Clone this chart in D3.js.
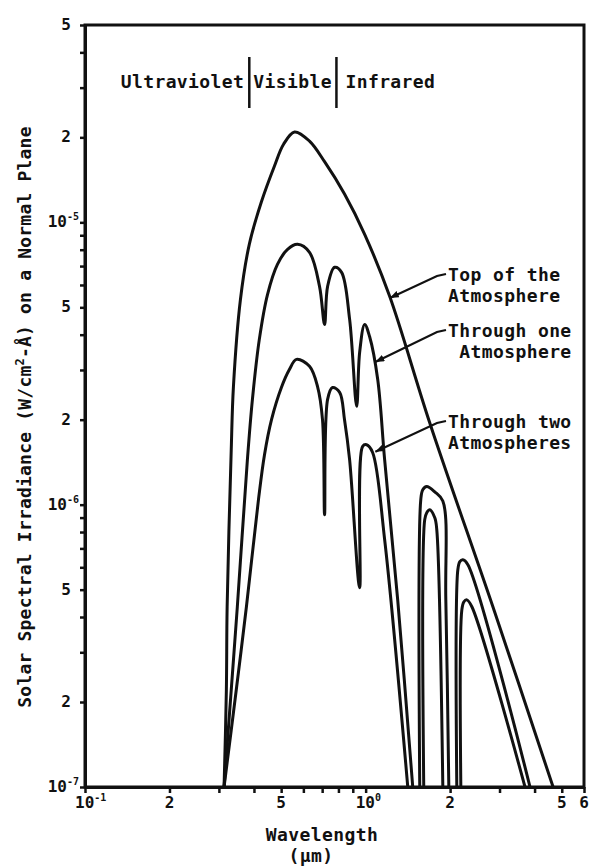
<!DOCTYPE html>
<html>
<head>
<meta charset="utf-8">
<script src="https://cdn.jsdelivr.net/npm/d3@7"></script>
<style>
  body { margin: 0; background: #fff; }
  text { font-family: "DejaVu Sans Mono", monospace; font-weight: bold; fill: #111; }
</style>
</head>
<body>
<svg id="chart" width="590" height="867"></svg>
<script>
// wavelength in um, irradiance in W/cm2-A ; null = curve leaves the plot at the bottom
const topWl = [0.313, 0.319, 0.321, 0.332, 0.338, 0.358, 0.385, 0.425, 0.473, 0.510, 0.558, 0.631,
               0.714, 0.841, 0.992, 1.218, 1.692, 2.889, 4.656];
const topE  = [1e-7, 2.21e-7, 4.35e-7, 1.57e-6, 2.62e-6, 5.33e-6, 8.36e-6, 1.18e-5, 1.58e-5, 1.89e-5, 2.09e-5, 1.94e-5,
               1.64e-5, 1.26e-5, 9.07e-6, 5.47e-6, 1.95e-6, 4.14e-7, 1e-7];

const oneWl = [0.313, 0.332, 0.349, 0.379, 0.395, 0.418, 0.447, 0.485, 0.527, 0.572, 0.631, 0.685, 0.714,
               0.732, 0.775, 0.821, 0.877, 0.929, 0.952, 0.992, 1.033, 1.104, 1.169, 1.301, 1.472, null,
               1.559, 1.572, 1.598, 1.651, 1.764, 1.884, 1.931, 1.979, null,
               2.113, 2.131, 2.166, 2.220, 2.314, 3.853];
const oneE  = [1e-7, 2.21e-7, 4.35e-7, 1.44e-6, 2.36e-6, 3.85e-6, 5.55e-6, 7.10e-6, 8.02e-6, 8.36e-6, 7.83e-6, 5.93e-6, 4.35e-6,
               5.93e-6, 6.93e-6, 6.65e-6, 4.53e-6, 2.23e-6, 3.46e-6, 4.35e-6, 3.94e-6, 2.78e-6, 1.44e-6, 4.60e-7, 1e-7, null,
               1e-7, 1.04e-6, 1.13e-6, 1.16e-6, 1.11e-6, 1.03e-6, 4.60e-7, 1e-7, null,
               1e-7, 5.88e-7, 6.28e-7, 6.38e-7, 6.13e-7, 1e-7];

const twoWl = [0.313, 0.346, 0.376, 0.415, 0.436, 0.462, 0.501, 0.535, 0.567, 0.631, 0.674, 0.702,
               0.714, 0.732, 0.762, 0.808, 0.841, 0.877, 0.952, 0.976, 1.008, 1.059, 1.169, 1.413, null,
               1.611, 1.624, 1.651, 1.692, 1.764, 1.793, 1.884, null,
               2.184, 2.202, 2.239, 2.295, 2.391, 3.698];
const twoE  = [1e-7, 2.21e-7, 4.35e-7, 1.04e-6, 1.50e-6, 2.00e-6, 2.60e-6, 3.01e-6, 3.27e-6, 3.09e-6, 2.62e-6, 2.00e-6,
               9.21e-7, 2.36e-6, 2.60e-6, 2.50e-6, 2.00e-6, 1.44e-6, 5.08e-7, 1.61e-6, 1.63e-6, 1.53e-6, 7.51e-7, 1e-7, null,
               1e-7, 8.85e-7, 9.37e-7, 9.60e-7, 8.99e-7, 8.15e-7, 1e-7, null,
               1e-7, 4.24e-7, 4.53e-7, 4.60e-7, 4.35e-7, 1e-7];

const xTicks = [0.1, 0.2, 0.3, 0.4, 0.5, 0.6, 0.7, 0.8, 0.9, 1, 2, 3, 4, 5, 6];
const xLabelVals = [0.1, 0.2, 0.5, 1, 2, 5, 6];
const xLabelBase = ['10', '2', '5', '10', '2', '5', '6'];
const xLabelExp  = ['-1', '', '', '0', '', '', ''];

const yTicks = [1e-7, 2e-7, 3e-7, 4e-7, 5e-7, 6e-7, 7e-7, 8e-7, 9e-7,
                1e-6, 2e-6, 3e-6, 4e-6, 5e-6, 6e-6, 7e-6, 8e-6, 9e-6,
                1e-5, 2e-5, 3e-5, 4e-5, 5e-5];
const yLabelVals = [1e-7, 2e-7, 5e-7, 1e-6, 2e-6, 5e-6, 1e-5, 2e-5, 5e-5];
const yLabelBase = ['10', '2', '5', '10', '2', '5', '10', '2', '5'];
const yLabelExp  = ['-7', '', '', '-6', '', '', '-5', '', ''];

const bandNames = ['Ultraviolet', 'Visible', 'Infrared'];
const bandEdges = [0.385, 0.787];

const noteLines = [['Top of the', 'Atmosphere'], ['Through one', ' Atmosphere'], ['Through two', 'Atmospheres']];
const noteTipWl = [1.22, 1.083, 1.083];
const noteTipE  = [5.4e-6, 3.2e-6, 1.54e-6];

const plotLeft = 85, plotRight = 584, plotTop = 25, plotBottom = 787;

const svg = d3.select('#chart');

const x = d3.scaleLog().domain([0.1, 6]).range([plotLeft, plotRight]);
const y = d3.scaleLog().domain([1e-7, 5e-5]).range([plotBottom, plotTop]);

const defs = svg.append('defs');
defs.append('clipPath').attr('id', 'plot')
    .append('rect').attr('x', plotLeft).attr('y', plotTop)
    .attr('width', plotRight - plotLeft).attr('height', plotBottom - plotTop);

defs.append('marker')
    .attr('id', 'arrow').attr('viewBox', '0 0 9 7')
    .attr('refX', 9).attr('refY', 3.5)
    .attr('markerWidth', 9).attr('markerHeight', 7)
    .attr('markerUnits', 'userSpaceOnUse').attr('orient', 'auto')
    .append('path').attr('d', 'M0,0L9,3.5L0,7Z').attr('fill', '#111');

const line = d3.line()
  .defined(d => d[1] != null)
  .x(d => x(d[0]))
  .y(d => y(d[1]))
  .curve(d3.curveCatmullRom.alpha(0.5));

const series = [[topWl, topE], [oneWl, oneE], [twoWl, twoE]];

svg.append('g').attr('clip-path', 'url(#plot)')
  .selectAll('path')
  .data(series.map(s => s[0].map((w, i) => [w, s[1][i]])))
  .enter()
  .append('path')
  .attr('d', line)
  .attr('fill', 'none')
  .attr('stroke', '#111')
  .attr('stroke-width', 3)
  .attr('stroke-linejoin', 'round');

// frame
svg.append('rect')
   .attr('x', plotLeft).attr('y', plotTop)
   .attr('width', plotRight - plotLeft).attr('height', plotBottom - plotTop)
   .attr('fill', 'none').attr('stroke', '#111').attr('stroke-width', 3);

const xAxis = d3.axisBottom(x).tickValues(xTicks).tickFormat('').tickSize(6).tickSizeOuter(0);
const yAxis = d3.axisLeft(y).tickValues(yTicks).tickFormat('').tickSize(5).tickSizeOuter(0);

const gx = svg.append('g').attr('transform', `translate(0, ${plotBottom})`).call(xAxis);
const gy = svg.append('g').attr('transform', `translate(${plotLeft}, 0)`).call(yAxis);
[gx, gy].forEach(g => {
  g.select('.domain').attr('stroke', '#111').attr('stroke-width', 3);
  g.selectAll('.tick line').attr('stroke', '#111').attr('stroke-width', 2.5);
});

// tick labels
const xl = svg.append('g').selectAll('text')
  .data(xLabelVals)
  .enter()
  .append('text')
  .attr('x', (d, i) => xLabelExp[i] ? x(d) - 10 : x(d))
  .attr('y', 808)
  .attr('text-anchor', (d, i) => xLabelExp[i] ? 'start' : 'middle')
  .attr('font-size', 16)
  .text((d, i) => xLabelBase[i]);
xl.filter((d, i) => xLabelExp[i])
  .append('tspan').attr('dy', -7).attr('font-size', 10)
  .text(d => xLabelExp[xLabelVals.indexOf(d)]);

const yl = svg.append('g').selectAll('text')
  .data(yLabelVals)
  .enter()
  .append('text')
  .attr('x', (d, i) => yLabelExp[i] ? 79 : 71)
  .attr('y', d => y(d) + 5)
  .attr('text-anchor', 'end')
  .attr('font-size', 16)
  .text((d, i) => yLabelBase[i]);
yl.filter((d, i) => yLabelExp[i])
  .append('tspan').attr('dy', -7).attr('font-size', 10)
  .text(d => yLabelExp[yLabelVals.indexOf(d)]);

// band header
svg.selectAll('.edge')
  .data(bandEdges)
  .enter()
  .append('line')
  .attr('class', 'edge')
  .attr('x1', d => x(d)).attr('x2', d => x(d))
  .attr('y1', 57).attr('y2', 108)
  .attr('stroke', '#111').attr('stroke-width', 2.5);

const bandX = [x(bandEdges[0]) - 5, x(bandEdges[0]) + 4, x(bandEdges[1]) + 9];
const bandAnchor = ['end', 'start', 'start'];
svg.selectAll('.band')
  .data(bandNames)
  .enter()
  .append('text')
  .attr('class', 'band')
  .attr('x', (d, i) => bandX[i])
  .attr('y', 88)
  .attr('text-anchor', (d, i) => bandAnchor[i])
  .attr('font-size', 18)
  .attr('letter-spacing', 0.4)
  .text(d => d);

// curve labels with leaders
const noteBase = [281, 337, 428];
noteLines.forEach((lines, i) => {
  const t = svg.append('text').attr('font-size', 18).attr('letter-spacing', 0.4)
               .attr('xml:space', 'preserve');
  lines.forEach((s, j) => {
    t.append('tspan').attr('x', 448).attr('y', noteBase[i] + j * 21).text(s);
  });
  const pts = [[446, noteBase[i] - 7], [437, noteBase[i] - 5], [x(noteTipWl[i]), y(noteTipE[i])]];
  svg.append('path')
     .attr('d', d3.line()(pts))
     .attr('fill', 'none').attr('stroke', '#111').attr('stroke-width', 2.2)
     .attr('marker-end', 'url(#arrow)');
});

// axis titles
const yt = svg.append('text')
  .attr('transform', 'translate(31, 417) rotate(-90)')
  .attr('text-anchor', 'middle')
  .attr('font-size', 18)
  .attr('letter-spacing', 0.2);
yt.append('tspan').text('Solar Spectral Irradiance (W/cm');
yt.append('tspan').attr('dy', -7).attr('font-size', 12).text('2');
yt.append('tspan').attr('dy', 7).text('-Å) on a Normal Plane');

svg.append('text').attr('x', 322).attr('y', 841).attr('text-anchor', 'middle')
   .attr('font-size', 18).attr('letter-spacing', 0.4).text('Wavelength');
svg.append('text').attr('x', 311).attr('y', 862).attr('text-anchor', 'middle')
   .attr('font-size', 18).attr('letter-spacing', 0.4).text('(μm)');
</script>
</body>
</html>
